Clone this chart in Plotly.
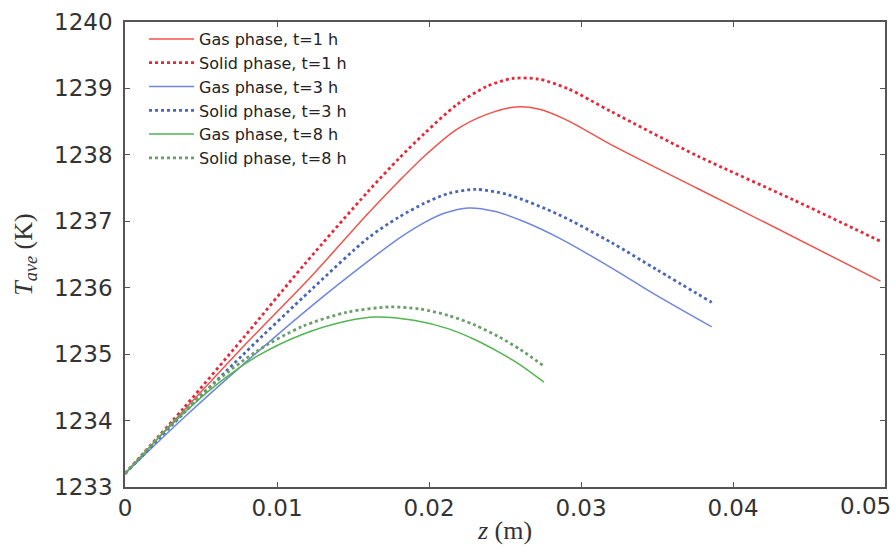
import plotly.graph_objects as go

# Axial position z (m) and average temperature T_ave (K) for each case
z_gas_1h = [0, 0.0039, 0.0078, 0.01225, 0.016, 0.018, 0.01969, 0.0218, 0.0238, 0.0257, 0.0272, 0.0291, 0.032, 0.0377, 0.0404, 0.0497]
T_gas_1h = [1233.2, 1234.16, 1235.12, 1236.17, 1237.12, 1237.6, 1237.98, 1238.38, 1238.61, 1238.72, 1238.69, 1238.52, 1238.15, 1237.49, 1237.18, 1236.1]

z_solid_1h = [0, 0.0039, 0.0078, 0.0118, 0.016, 0.01804, 0.01969, 0.0218, 0.0238, 0.0255, 0.0272, 0.0291, 0.032, 0.0377, 0.044, 0.0497]
T_solid_1h = [1233.2, 1234.2, 1235.25, 1236.35, 1237.45, 1237.95, 1238.32, 1238.75, 1239.03, 1239.15, 1239.14, 1239.0, 1238.65, 1237.98, 1237.32, 1236.7]

z_gas_3h = [0, 0.0039, 0.0078, 0.01225, 0.016, 0.018, 0.01969, 0.021, 0.0226, 0.0243, 0.0262, 0.02854, 0.032, 0.035, 0.0386]
T_gas_3h = [1233.2, 1234.05, 1234.85, 1235.72, 1236.4, 1236.74, 1236.98, 1237.12, 1237.2, 1237.15, 1237.0, 1236.75, 1236.3, 1235.88, 1235.41]

z_solid_3h = [0, 0.0039, 0.0078, 0.01225, 0.016, 0.018, 0.01969, 0.0213, 0.0231, 0.0252, 0.02854, 0.032, 0.035, 0.0386]
T_solid_3h = [1233.2, 1234.12, 1235.0, 1235.97, 1236.75, 1237.06, 1237.27, 1237.42, 1237.48, 1237.4, 1237.1, 1236.68, 1236.27, 1235.78]

z_gas_8h = [0, 0.0029, 0.0058, 0.0087, 0.0117, 0.0146, 0.0165, 0.019, 0.0213, 0.023, 0.0246, 0.026, 0.02756]
T_gas_8h = [1233.2, 1233.9, 1234.5, 1234.97, 1235.3, 1235.5, 1235.56, 1235.51, 1235.38, 1235.22, 1235.03, 1234.84, 1234.58]

z_solid_8h = [0, 0.0029, 0.0058, 0.0087, 0.0117, 0.0146, 0.0174, 0.0194, 0.0213, 0.023, 0.0246, 0.026, 0.02756]
T_solid_8h = [1233.2, 1233.92, 1234.55, 1235.05, 1235.42, 1235.63, 1235.71, 1235.68, 1235.58, 1235.44, 1235.26, 1235.07, 1234.82]

# Axis ticks
z_ticks = [0, 0.01, 0.02, 0.03, 0.04, 0.05]
z_tick_text = ["0", "0.01", "0.02", "0.03", "0.04", "0.05"]
T_ticks = [1233, 1234, 1235, 1236, 1237, 1238, 1239, 1240]

series = [
    ("Gas phase, t=1 h", z_gas_1h, T_gas_1h, "#f0524a", "solid"),
    ("Solid phase, t=1 h", z_solid_1h, T_solid_1h, "#e8283a", "dot"),
    ("Gas phase, t=3 h", z_gas_3h, T_gas_3h, "#6f86dc", "solid"),
    ("Solid phase, t=3 h", z_solid_3h, T_solid_3h, "#4a66b8", "dot"),
    ("Gas phase, t=8 h", z_gas_8h, T_gas_8h, "#52b552", "solid"),
    ("Solid phase, t=8 h", z_solid_8h, T_solid_8h, "#6a9e6a", "dot"),
]

fig = go.Figure()
for name, z, T, color, dash in series:
    fig.add_trace(go.Scatter(
        x=z, y=T, name=name, mode="lines",
        line=dict(color=color, width=1.5 if dash == "solid" else 2.8,
                  dash=dash, shape="spline", smoothing=0.8),
    ))

TICK_FONT = dict(family="DejaVu Sans", size=23, color="#333")
TITLE_FONT = dict(family="Liberation Serif, serif", size=26, color="#333")

axis_common = dict(
    showline=True, linecolor="#555", linewidth=1.5, mirror="ticks",
    ticks="inside", ticklen=5, tickcolor="#555",
    showgrid=False, zeroline=False, tickfont=TICK_FONT,
)

# the last x label sits just inside the figure edge
fig.add_annotation(x=z_ticks[-1], y=0, xref="x", yref="paper",
                   text=z_tick_text[-1], showarrow=False,
                   xanchor="right", yanchor="top", xshift=8, yshift=-4,
                   font=TICK_FONT)

fig.update_layout(
    width=896, height=560,
    margin=dict(l=125, r=9, t=15, b=73),
    paper_bgcolor="white", plot_bgcolor="white",
    showlegend=True,
    legend=dict(x=0.025, y=1.0, xanchor="left", yanchor="top",
                bgcolor="rgba(0,0,0,0)", itemwidth=45,
                font=dict(family="DejaVu Sans", size=16, color="#222")),
    xaxis=dict(range=[0, 0.05], tickvals=z_ticks,
               ticktext=z_tick_text[:-1] + [""], ticklabelstandoff=0,
               title=dict(text="<i>z</i> (m)", standoff=0, font=TITLE_FONT),
               **axis_common),
    yaxis=dict(range=[1233, 1240], tickvals=T_ticks, ticklabelstandoff=6,
               title=dict(text="<i>T</i><sub><i>ave</i></sub> (K)", standoff=14,
                          font=TITLE_FONT),
               **axis_common),
)

fig.write_html("out.html")
